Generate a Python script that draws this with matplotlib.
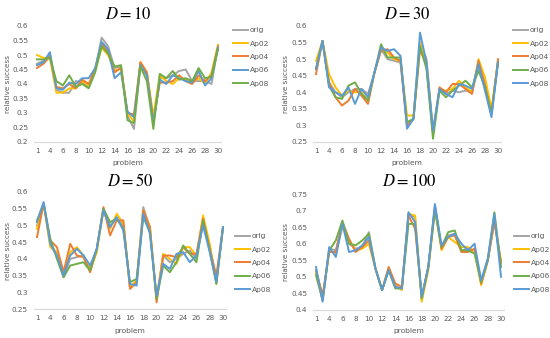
import matplotlib
matplotlib.use("Agg")
import matplotlib.pyplot as plt

plt.rcParams['mathtext.fontset'] = 'stix'
plt.rcParams['font.family'] = ['DejaVu Sans']

problems = [1] + list(range(3, 31))
tick_labels = [str(p) if i % 2 == 0 else "" for i, p in enumerate(problems)]

# D = 10
d10_orig = [0.47, 0.48, 0.50, 0.38, 0.37, 0.37, 0.41, 0.405, 0.39, 0.45, 0.56, 0.53, 0.455, 0.46, 0.29, 0.245, 0.47, 0.43, 0.27, 0.42, 0.42, 0.43, 0.445, 0.45, 0.41, 0.41, 0.41, 0.40, 0.53]
d10_ap02 = [0.50, 0.49, 0.49, 0.37, 0.37, 0.385, 0.385, 0.41, 0.395, 0.45, 0.525, 0.50, 0.445, 0.455, 0.30, 0.27, 0.475, 0.44, 0.29, 0.43, 0.41, 0.40, 0.42, 0.415, 0.405, 0.42, 0.40, 0.44, 0.535]
d10_ap04 = [0.455, 0.47, 0.495, 0.39, 0.385, 0.40, 0.385, 0.415, 0.40, 0.45, 0.54, 0.51, 0.44, 0.455, 0.30, 0.295, 0.475, 0.44, 0.27, 0.405, 0.405, 0.41, 0.43, 0.41, 0.40, 0.43, 0.41, 0.43, 0.53]
d10_ap06 = [0.465, 0.475, 0.51, 0.385, 0.38, 0.405, 0.40, 0.42, 0.42, 0.455, 0.545, 0.52, 0.42, 0.44, 0.305, 0.285, 0.465, 0.43, 0.265, 0.415, 0.40, 0.43, 0.42, 0.41, 0.405, 0.445, 0.395, 0.42, 0.525]
d10_ap08 = [0.485, 0.485, 0.49, 0.41, 0.395, 0.43, 0.39, 0.40, 0.385, 0.44, 0.53, 0.505, 0.46, 0.465, 0.275, 0.265, 0.46, 0.41, 0.245, 0.435, 0.42, 0.445, 0.415, 0.42, 0.41, 0.455, 0.42, 0.425, 0.52]

# D = 30
d30_orig = [0.47, 0.555, 0.43, 0.40, 0.385, 0.40, 0.41, 0.41, 0.395, 0.46, 0.53, 0.50, 0.495, 0.49, 0.30, 0.32, 0.55, 0.50, 0.28, 0.41, 0.395, 0.405, 0.40, 0.405, 0.40, 0.48, 0.43, 0.34, 0.49]
d30_ap02 = [0.495, 0.555, 0.455, 0.415, 0.39, 0.405, 0.40, 0.40, 0.375, 0.46, 0.53, 0.52, 0.50, 0.495, 0.33, 0.33, 0.55, 0.49, 0.28, 0.41, 0.405, 0.41, 0.435, 0.415, 0.40, 0.50, 0.445, 0.35, 0.495]
d30_ap04 = [0.455, 0.555, 0.43, 0.385, 0.36, 0.375, 0.41, 0.39, 0.365, 0.46, 0.525, 0.53, 0.505, 0.495, 0.30, 0.32, 0.53, 0.48, 0.275, 0.415, 0.40, 0.425, 0.425, 0.41, 0.395, 0.495, 0.42, 0.335, 0.50]
d30_ap06 = [0.47, 0.555, 0.42, 0.385, 0.38, 0.42, 0.43, 0.395, 0.375, 0.46, 0.545, 0.505, 0.505, 0.505, 0.31, 0.32, 0.54, 0.47, 0.26, 0.405, 0.385, 0.405, 0.42, 0.435, 0.415, 0.465, 0.415, 0.335, 0.49]
d30_ap08 = [0.47, 0.555, 0.415, 0.40, 0.39, 0.415, 0.365, 0.41, 0.385, 0.46, 0.535, 0.525, 0.53, 0.51, 0.29, 0.32, 0.58, 0.49, 0.285, 0.41, 0.395, 0.385, 0.425, 0.42, 0.41, 0.485, 0.405, 0.325, 0.49]

# D = 50
d50_orig = [0.50, 0.565, 0.44, 0.41, 0.345, 0.40, 0.405, 0.41, 0.37, 0.43, 0.55, 0.50, 0.52, 0.50, 0.315, 0.33, 0.555, 0.49, 0.28, 0.41, 0.39, 0.40, 0.415, 0.425, 0.40, 0.51, 0.435, 0.335, 0.495]
d50_ap02 = [0.49, 0.565, 0.435, 0.42, 0.355, 0.42, 0.435, 0.41, 0.365, 0.42, 0.545, 0.49, 0.535, 0.505, 0.315, 0.335, 0.545, 0.495, 0.28, 0.415, 0.40, 0.385, 0.435, 0.435, 0.41, 0.53, 0.445, 0.325, 0.495]
d50_ap04 = [0.465, 0.565, 0.455, 0.435, 0.36, 0.445, 0.41, 0.405, 0.36, 0.43, 0.555, 0.47, 0.515, 0.515, 0.31, 0.33, 0.545, 0.495, 0.27, 0.41, 0.41, 0.405, 0.435, 0.415, 0.415, 0.52, 0.43, 0.35, 0.495]
d50_ap06 = [0.515, 0.565, 0.46, 0.40, 0.345, 0.38, 0.385, 0.39, 0.365, 0.43, 0.55, 0.51, 0.52, 0.49, 0.33, 0.34, 0.525, 0.48, 0.28, 0.38, 0.36, 0.39, 0.44, 0.415, 0.39, 0.515, 0.425, 0.325, 0.495]
d50_ap08 = [0.51, 0.57, 0.445, 0.41, 0.35, 0.41, 0.43, 0.41, 0.38, 0.43, 0.545, 0.495, 0.525, 0.485, 0.325, 0.32, 0.535, 0.475, 0.29, 0.385, 0.37, 0.415, 0.42, 0.39, 0.41, 0.50, 0.42, 0.33, 0.495]

# D = 100
d100_orig = [0.515, 0.43, 0.585, 0.58, 0.66, 0.60, 0.585, 0.59, 0.635, 0.525, 0.46, 0.525, 0.47, 0.465, 0.69, 0.68, 0.43, 0.53, 0.715, 0.59, 0.625, 0.63, 0.58, 0.585, 0.58, 0.48, 0.55, 0.67, 0.54]
d100_ap02 = [0.51, 0.43, 0.58, 0.57, 0.65, 0.61, 0.58, 0.585, 0.60, 0.525, 0.46, 0.52, 0.475, 0.46, 0.69, 0.685, 0.425, 0.52, 0.705, 0.58, 0.62, 0.605, 0.59, 0.59, 0.575, 0.475, 0.55, 0.67, 0.545]
d100_ap04 = [0.52, 0.445, 0.575, 0.575, 0.665, 0.615, 0.575, 0.59, 0.61, 0.525, 0.46, 0.53, 0.48, 0.47, 0.685, 0.645, 0.44, 0.53, 0.71, 0.585, 0.62, 0.625, 0.575, 0.575, 0.585, 0.48, 0.55, 0.665, 0.545]
d100_ap06 = [0.505, 0.43, 0.58, 0.61, 0.67, 0.60, 0.595, 0.61, 0.63, 0.525, 0.46, 0.52, 0.465, 0.465, 0.66, 0.66, 0.435, 0.53, 0.70, 0.59, 0.635, 0.64, 0.58, 0.58, 0.57, 0.485, 0.55, 0.695, 0.53]
d100_ap08 = [0.53, 0.425, 0.59, 0.56, 0.66, 0.575, 0.58, 0.595, 0.62, 0.525, 0.46, 0.52, 0.47, 0.465, 0.695, 0.665, 0.44, 0.53, 0.72, 0.595, 0.62, 0.63, 0.60, 0.58, 0.60, 0.49, 0.555, 0.69, 0.50]

series_names = ["orig", "Ap02", "Ap04", "Ap06", "Ap08"]

GRAY = "#A5A5A5"
YEL = "#FFC000"
ORA = "#ED7D31"
BLU = "#5B9BD5"
GRN = "#70AD47"

W, H = 550, 338
fig = plt.figure(figsize=(5.5, 3.38), dpi=100)


def px_axes(x0, x28, ytop, ybot):
    sp = (x28 - x0) / 28.0
    left = x0 - 0.5 * sp
    right = x28 + 0.5 * sp
    ax = fig.add_axes([left / W, 1 - ybot / H, (right - left) / W, (ybot - ytop) / H])
    return ax, left, right


panels = [
    dict(title=r"$D = 10$", data=[d10_orig, d10_ap02, d10_ap04, d10_ap06, d10_ap08],
         colors=[GRAY, YEL, ORA, BLU, GRN], ylim=(0.2, 0.6), yticks=[0.2 + 0.05 * i for i in range(9)],
         box=(37, 218, 26, 142), leg=(233, 32), title_xy=(128, 14), ylab_x=8, xlab_y=163),
    dict(title=r"$D = 30$", data=[d30_orig, d30_ap02, d30_ap04, d30_ap06, d30_ap08],
         colors=[GRAY, YEL, ORA, GRN, BLU], ylim=(0.25, 0.6), yticks=[0.25 + 0.05 * i for i in range(8)],
         box=(316, 498, 26, 142), leg=(513, 32), title_xy=(407, 14), ylab_x=286, xlab_y=163),
    dict(title=r"$D = 50$", data=[d50_orig, d50_ap02, d50_ap04, d50_ap06, d50_ap08],
         colors=[GRAY, YEL, ORA, GRN, BLU], ylim=(0.25, 0.6), yticks=[0.25 + 0.05 * i for i in range(8)],
         box=(37, 223, 192, 309), leg=(235, 238), title_xy=(130, 181), ylab_x=8, xlab_y=331),
    dict(title=r"$D = 100$", data=[d100_orig, d100_ap02, d100_ap04, d100_ap06, d100_ap08],
         colors=[GRAY, YEL, ORA, GRN, BLU], ylim=(0.4, 0.75), yticks=[0.4 + 0.05 * i for i in range(8)],
         box=(316, 501, 194, 310), leg=(514, 238), title_xy=(409, 181), ylab_x=286, xlab_y=331),
]

x = list(range(len(problems)))
for p in panels:
    ax, left, right = px_axes(*p["box"])
    for name, vals, c in zip(series_names, p["data"], p["colors"]):
        ax.plot(x, vals, color=c, lw=1.4, label=name, solid_joinstyle="round")
    ax.set_xlim(-0.5, len(problems) - 0.5)
    ax.set_ylim(*p["ylim"])
    ax.set_yticks(p["yticks"])
    ax.set_yticklabels([f"{v:g}" for v in [round(t, 2) for t in p["yticks"]]])
    ax.set_xticks(x)
    ax.set_xticklabels(tick_labels)
    for s in ["top", "right", "left"]:
        ax.spines[s].set_visible(False)
    ax.spines["bottom"].set_color("#D9D9D9")
    ax.spines["bottom"].set_linewidth(0.8)
    ax.tick_params(length=0, labelsize=5.2, colors="#595959", pad=4)
    ax.set_xlabel("problem", fontsize=5.4, color="#595959")
    ax.set_ylabel("relative success", fontsize=5.2, color="#595959")
    ytop, ybot = p["box"][2], p["box"][3]
    ax.yaxis.set_label_coords((p["ylab_x"] - left) / (right - left), 0.5)
    ax.xaxis.set_label_coords(0.5, (ybot - p["xlab_y"]) / (ybot - ytop))
    ax.xaxis.label.set_va("center")
    ax.yaxis.label.set_va("center")
    fig.text(p["title_xy"][0] / W, 1 - p["title_xy"][1] / H, p["title"], fontsize=12,
             ha="center", va="center", color="black")
    lx, ly = p["leg"]
    ax.legend(loc="upper left", bbox_to_anchor=(lx / W, 1 - (ly - 5) / H), bbox_transform=fig.transFigure,
              frameon=False, fontsize=5.4, handlelength=2.0, handletextpad=0.25, labelspacing=0.95,
              borderaxespad=0, borderpad=0, labelcolor="#595959")

fig.savefig("out.png", dpi=100)
